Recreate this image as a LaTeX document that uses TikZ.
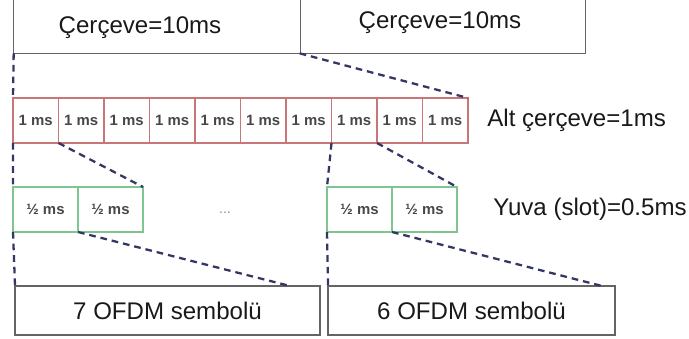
\documentclass[tikz,border=0pt]{standalone}
\usepackage{fontspec}
\setmainfont{Liberation Sans}
\usepackage{tikz}
\usetikzlibrary{positioning}
\definecolor{dashnavy}{RGB}{52,55,100}
\definecolor{subred}{RGB}{200,118,120}
\definecolor{slotgreen}{RGB}{128,196,146}
\definecolor{boxgray}{RGB}{100,100,100}
\tikzset{
  bigtext/.style={font=\fontsize{13.7pt}{16pt}\selectfont, text=black!90},
  smalltext/.style={font=\fontsize{8.5pt}{10pt}\selectfont\bfseries, text=black!72},
  subcell/.style={draw=subred, line width=0.6pt, minimum width=0.91cm,
    minimum height=0.9cm, inner sep=0pt, outer sep=0pt, smalltext},
  slotcell/.style={draw=slotgreen, line width=0.6pt, minimum width=1.3cm,
    minimum height=0.9cm, inner sep=0pt, outer sep=0pt, smalltext},
  symbox/.style={draw=boxgray, line width=0.9pt, minimum height=0.98cm,
    inner sep=0pt, outer sep=0pt, bigtext},
  frameline/.style={boxgray, line width=0.9pt},
  zoomline/.style={dashnavy, line width=1.3pt, dash pattern=on 3.8pt off 2.8pt},
}

\begin{document}
\begin{tikzpicture}[x=0.02cm, y=-0.02cm]
  \useasboundingbox (0,0) rectangle (689,338);

  % frames (open at the top)
  \node[minimum width=5.72cm, minimum height=1.06cm, inner sep=0pt] (f1) at (157,26.5) {};
  \node[minimum width=5.70cm, minimum height=1.06cm, inner sep=0pt] (f2) at (442.5,26.5) {};
  \draw[frameline] (f1.north west) |- (f2.south east) -- (f2.north east);
  \draw[frameline] (f1.north east) -- (f1.south east);
  \node[bigtext] (t1) at (140,28) {Çerçeve=10ms};
  \node[bigtext] (t2) at (440,23) {Çerçeve=10ms};

  % subframes
  \foreach \i in {1,...,10}
    \node[subcell] (s\i) at ({35.75+45.5*(\i-1)},120.5) {1 ms};
  \node[bigtext, anchor=west, inner sep=0pt, right=0.38cm of s10] (altlbl) {Alt çerçeve=1ms};

  % slots
  \node[slotcell] (g1) at (45.5,209.5) {½ ms};
  \node[slotcell] (g2) at (110.5,209.5) {½ ms};
  \node[slotcell] (g3) at (359.5,209.5) {½ ms};
  \node[slotcell] (g4) at (424.5,209.5) {½ ms};
  \node[font=\fontsize{8pt}{9pt}\selectfont, text=black!45] (dots) at (225,213) {...};
  \node[bigtext, anchor=west, inner sep=0pt, right=0.72cm of g4] (yuvalbl) {Yuva (slot)=0.5ms};

  % symbols
  \node[symbox, minimum width=6.1cm] (b1) at (167.5,310.5) {7 OFDM sembolü};
  \node[symbox, minimum width=5.74cm] (b2) at (471.5,310.5) {6 OFDM sembolü};

  \draw[zoomline] (f1.south west) -- (s1.north west);
  \draw[zoomline] (f2.south west) -- (s10.north east);
  \draw[zoomline] (s1.south west) -- (g1.north west);
  \draw[zoomline] (s2.south west) -- (g2.north east);
  \draw[zoomline] (s8.south west) -- (g3.north west);
  \draw[zoomline] (s9.south west) -- (g4.north east);
  \draw[zoomline] (g1.south west) -- (b1.north west);
  \draw[zoomline] (g2.south west) -- ([xshift=-0.6cm]b1.north east);
  \draw[zoomline] (g3.south west) -- (b2.north west);
  \draw[zoomline] (g4.south west) -- ([xshift=-0.26cm]b2.north east);
\end{tikzpicture}
\end{document}
